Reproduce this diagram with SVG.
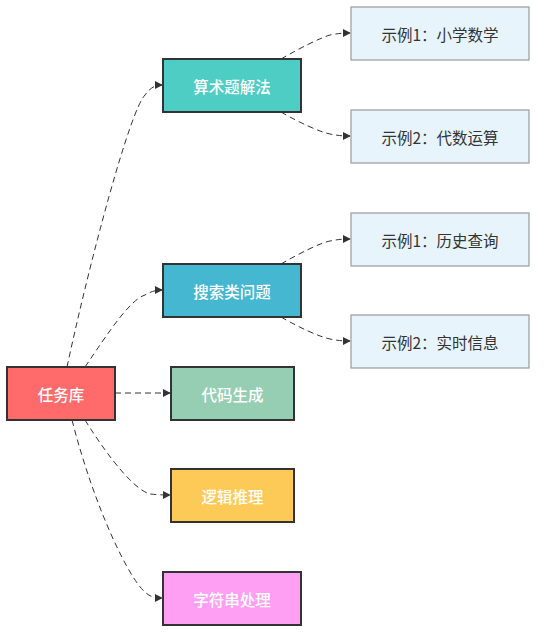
<svg xmlns="http://www.w3.org/2000/svg" width="545" height="642" viewBox="0 0 545 642">
<defs>
<marker id="arr" viewBox="0 0 10 10" refX="9" refY="5" markerWidth="8" markerHeight="8" orient="auto" markerUnits="userSpaceOnUse"><path d="M0,0 L10,5 L0,10 z" fill="#333"/></marker>
<style>
.n rect{stroke:#333;stroke-width:2}
.e rect{fill:#e8f4fc;stroke:#999;stroke-width:1.2}
text{font-family:"Noto Sans CJK SC","Liberation Sans",sans-serif;font-size:15.5px;text-anchor:middle;dominant-baseline:central}
.n text{fill:#fff;font-weight:500}
.e text{fill:#333}
#edges path{fill:none;stroke:#333;stroke-width:1;stroke-dasharray:6 4;marker-end:url(#arr)}
</style>
</defs>
<rect width="545" height="642" fill="#fff"/>
<g id="edges">
<path d="M67,367 C90,260 130,110 145,95 C150,88 155,85 162,85"/>
<path d="M85,367 C110,330 130,300 145,295 C150,292 155,290 162,290"/>
<path d="M115,393 L170,393"/>
<path d="M85,420 C110,460 135,490 150,494 C160,495 165,495 170,495"/>
<path d="M72,420 C95,510 130,580 145,592 C150,597 155,598 162,598"/>
<path d="M281,59 C300,48 320,38 330,35 C340,33 345,33 350,33"/>
<path d="M281,112 C300,123 320,132 330,134 C340,136 345,136 350,136"/>
<path d="M281,264 C300,253 320,243 330,241 C340,239 345,239 350,239"/>
<path d="M281,317 C300,328 320,337 330,339 C340,341 345,341 350,341"/>
</g>
<g id="n0" class="n"><rect x="7" y="367" width="108" height="53" fill="#ff6b6b"/><text x="61" y="393.5">任务库</text></g>
<g id="n1" class="n"><rect x="163" y="59" width="138" height="53" fill="#4ecdc4"/><text x="232" y="85.5">算术题解法</text></g>
<g id="n2" class="n"><rect x="163" y="264" width="138" height="53" fill="#45b7d1"/><text x="232" y="290.5">搜索类问题</text></g>
<g id="n3" class="n"><rect x="171" y="367" width="123" height="53" fill="#96ceb4"/><text x="232.5" y="393.5">代码生成</text></g>
<g id="n4" class="n"><rect x="171" y="469" width="123" height="53" fill="#feca57"/><text x="232.5" y="495.5">逻辑推理</text></g>
<g id="n5" class="n"><rect x="163" y="572" width="138" height="53" fill="#ff9ff3"/><text x="232" y="598.5">字符串处理</text></g>
<g id="e1" class="e"><rect x="351" y="7" width="178" height="53"/><text x="440" y="33.5">示例1：小学数学</text></g>
<g id="e2" class="e"><rect x="351" y="110" width="178" height="53"/><text x="440" y="136.5">示例2：代数运算</text></g>
<g id="e3" class="e"><rect x="351" y="213" width="178" height="53"/><text x="440" y="239.5">示例1：历史查询</text></g>
<g id="e4" class="e"><rect x="351" y="315" width="178" height="53"/><text x="440" y="341.5">示例2：实时信息</text></g>
</svg>
